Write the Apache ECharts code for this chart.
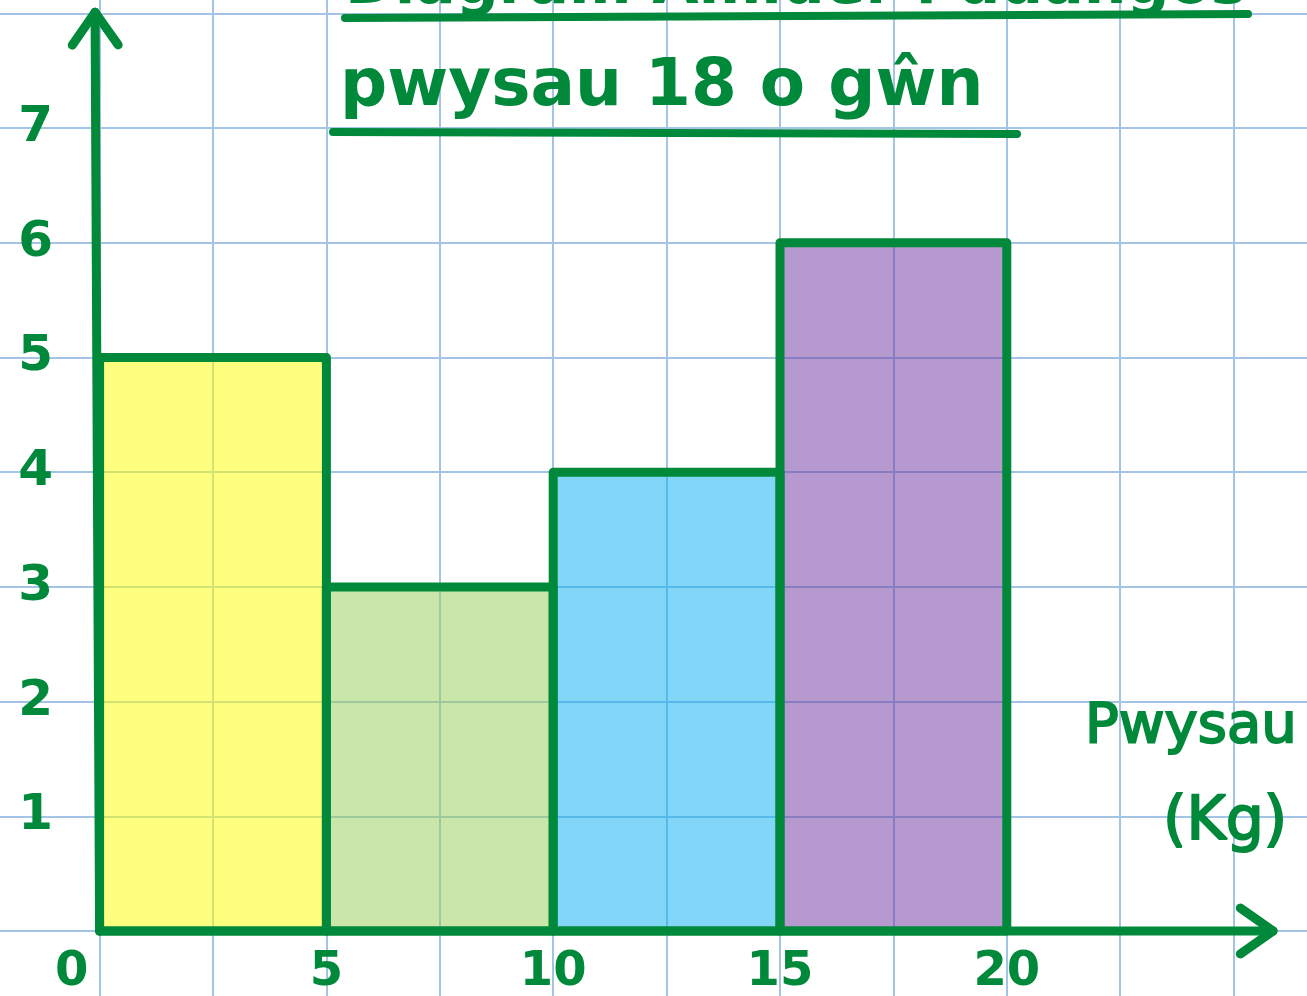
<!DOCTYPE html>
<html>
<head>
<meta charset="utf-8">
<script src="https://cdn.jsdelivr.net/npm/echarts@6/dist/echarts.min.js"></script>
<style>
  html, body { margin: 0; padding: 0; background: #ffffff; }
  #chart { width: 1307px; height: 996px; }
</style>
</head>
<body>
<div id="chart"></div>
<script>
// ---- data ----
const binStarts = [0, 5, 10, 15];
const binEnds = [5, 10, 15, 20];
const frequencies = [5, 3, 4, 6];
const barColors = ['rgba(255,255,0,0.5)', 'rgba(149,205,81,0.5)', 'rgba(5,173,241,0.5)', 'rgba(107,51,159,0.5)'];
const xTickLabels = ['0', '5', '10', '15', '20'];
const yTickLabels = ['1', '2', '3', '4', '5', '6', '7'];
const axisTips = [[25.87, 0], [-0.1, 8.01]];   // ends of the hand-drawn axis arrows
const titleLine1 = 'Diagram Amlder i ddangos';
const titleLine2 = 'pwysau 18 o gŵn';
const axisName = ['Pwysau', '(Kg)'];

const GREEN = '#00893B';
const GRIDBLUE = '#A4C4E6';

const chart = echarts.init(document.getElementById('chart'), null, { renderer: 'canvas' });

const barData = binStarts.map((s, i) => [s, binEnds[i], frequencies[i]]);

function renderBar(params, api) {
  const p0 = api.coord([api.value(0), 0]);
  const p1 = api.coord([api.value(1), api.value(2)]);
  return {
    type: 'rect',
    shape: { x: p0[0], y: p1[1], width: p1[0] - p0[0], height: p0[1] - p1[1] },
    style: { fill: barColors[params.dataIndex], stroke: GREEN, lineWidth: 9, lineJoin: 'round' }
  };
}

function renderAxis(params, api) {
  const o = api.coord([0, 0]);
  const t = api.coord([api.value(0), api.value(1)]);
  const dx = t[0] - o[0], dy = t[1] - o[1];
  const len = Math.hypot(dx, dy);
  const ux = dx / len, uy = dy / len;
  const L = 40, ang = 35 * Math.PI / 180;
  const rot = (a) => [-(ux * Math.cos(a) - uy * Math.sin(a)) * L, -(ux * Math.sin(a) + uy * Math.cos(a)) * L];
  const a1 = rot(ang), a2 = rot(-ang);
  const style = { stroke: GREEN, lineWidth: 9, lineCap: 'round', lineJoin: 'round', fill: null };
  return {
    type: 'group',
    children: [
      { type: 'polyline', shape: { points: [o, t] }, style },
      { type: 'polyline', shape: { points: [[t[0] + a1[0], t[1] + a1[1]], t, [t[0] + a2[0], t[1] + a2[1]]] }, style }
    ]
  };
}

// grid geometry: x=0 at 99.6px (45.36 px/kg), y=0 at 931px (114.7 px/unit)
const GRID = { left: -127.2, right: -153.4, top: -101.3, bottom: -49.7 };

const option = {
  backgroundColor: '#ffffff',
  animation: false,
  grid: Object.assign({ containLabel: false, outerBoundsMode: 'none' }, GRID),
  xAxis: {
    type: 'value', min: -5, max: 30, interval: 2.5,
    position: 'bottom', offset: -114.7,
    axisLine: { show: false, onZero: false },
    axisTick: { show: false },
    splitLine: { show: true, lineStyle: { color: GRIDBLUE, width: 2 } },
    axisLabel: {
      show: true, color: GREEN, fontFamily: 'DejaVu Sans', fontWeight: 'bold', fontSize: 48,
      verticalAlign: 'middle', margin: 42,
      formatter: (v) => {
        const s = String(v);
        if (!xTickLabels.includes(s)) return '';
        return s === '0' ? '{z|0}' : s;
      },
      rich: { z: { color: GREEN, fontFamily: 'DejaVu Sans', fontWeight: 'bold', fontSize: 48, padding: [0, 56, 0, 0] } }
    }
  },
  yAxis: {
    type: 'value', min: -1, max: 9, interval: 1,
    position: 'left', offset: -226.8,
    axisLine: { show: false, onZero: false },
    axisTick: { show: false },
    splitLine: { show: true, lineStyle: { color: GRIDBLUE, width: 2 } },
    axisLabel: {
      show: true, color: GREEN, fontFamily: 'DejaVu Sans', fontWeight: 'bold', fontSize: 50,
      align: 'center', margin: 64, padding: [12, 0, 0, 0],
      formatter: (v) => yTickLabels.includes(String(v)) ? String(v) : ''
    }
  },
  series: [
    { type: 'custom', name: 'bars', renderItem: renderBar, data: barData, clip: false, z: 2 },
    { type: 'custom', name: 'axes', renderItem: renderAxis, data: axisTips, clip: false, z: 3 }
  ],
  graphic: [
    { type: 'text', left: 345, top: -43, z: 10,
      style: { text: titleLine1, fill: GREEN, font: 'bold 60px "DejaVu Sans"' } },
    { type: 'line', z: 10, shape: { x1: 345, y1: 18, x2: 1248, y2: 14 },
      style: { stroke: GREEN, lineWidth: 8, lineCap: 'round' } },
    { type: 'text', left: 340, top: 55, z: 10,
      style: { text: titleLine2, fill: GREEN, font: 'bold 66px "DejaVu Sans"' } },
    { type: 'line', z: 10, shape: { x1: 333, y1: 132, x2: 1017, y2: 134 },
      style: { stroke: GREEN, lineWidth: 8, lineCap: 'round' } },
    { type: 'text', left: 1084, top: 698, z: 10,
      style: { text: axisName[0], fill: GREEN, stroke: GREEN, lineWidth: 2, font: '56px "DejaVu Sans"' } },
    { type: 'text', left: 1162, top: 792, z: 10,
      style: { text: axisName[1], fill: GREEN, stroke: GREEN, lineWidth: 2, font: '60px "DejaVu Sans"' } }
  ]
};

chart.setOption(option);
</script>
</body>
</html>
